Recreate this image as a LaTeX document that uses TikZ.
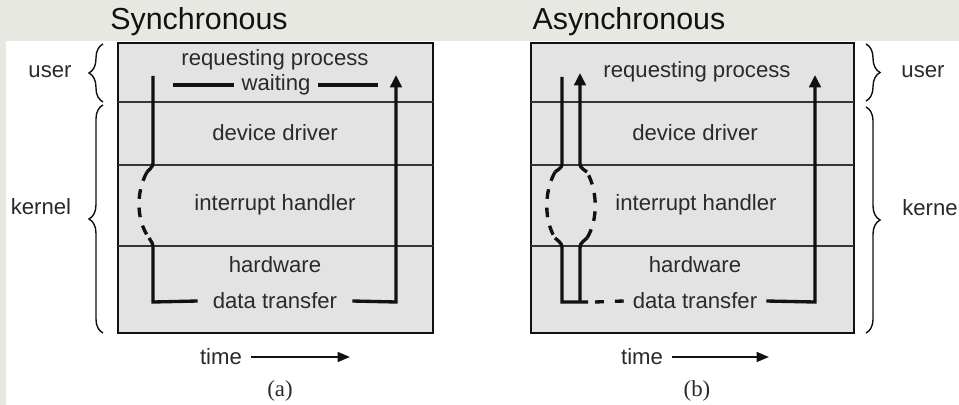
\documentclass[tikz,border=0pt]{standalone}
\usepackage{fontspec}
\setmainfont{Liberation Sans}
\newfontfamily\policelegende{Liberation Serif}
\usetikzlibrary{arrows.meta,decorations.pathreplacing,positioning}

\definecolor{couleurfond}{HTML}{E8E8E2}
\definecolor{couleurboite}{HTML}{E3E3E3}
\definecolor{couleurtext}{HTML}{2A2A2A}
\definecolor{couleurtrait}{HTML}{111111}
\newcommand{\lienhorz}[2]{\draw[flux] (#1) -- (#2);}
\newcommand{\liencoin}[3]{\draw[fleche] (#1) -- (#2) -- (#3);}
\newcommand{\lientemps}[2]{\draw[fleche temps] (#1.east) ++(0.5em,0) -- (#2);}
\tikzset{
		basic/.style={text=couleurtext, inner sep=0pt, font=\fontsize{12.6}{14}\selectfont},
		titre/.style={basic, text=couleurtrait, font=\fontsize{17.3}{19}\selectfont},
		legende/.style={basic, font=\policelegende\fontsize{13}{15}\selectfont},
		trou/.style={basic, inner xsep=4pt},
		boite/.style={draw=couleurtrait, line width=1.1pt, fill=couleurboite},
		separ/.style={draw=couleurtrait!85, line width=0.8pt},
		flux/.style={draw=couleurtrait, line width=1.9pt},
		flux pointille/.style={flux, dash pattern=on 5.5pt off 5pt},
		fleche/.style={flux, -{Triangle[length=7pt,width=6.5pt]}},
		fleche temps/.style={draw=couleurtrait, line width=1.3pt, -{Triangle[length=7pt,width=5.5pt]}},
		accolade/.style={draw=couleurtrait, line width=0.8pt, decorate, decoration={brace, amplitude=8pt}}
	}

\begin{document}
\begin{tikzpicture}[x=0.02cm, y=-0.02cm]
		\useasboundingbox (0,0) rectangle (959,405);
		\fill[couleurfond] (0,0) rectangle (959,405);
		\fill[white] (6,41) rectangle (959,405);

		% titres
		\node[titre](titsync) at (199,22){Synchronous};
		\node[titre](titasyn) at (629,22){Asynchronous};

		% boites
		\draw[boite] (118,43) rectangle (433,333);
		\draw[boite] (531,43) rectangle (854,333);
		\foreach \y in {102,165,246} {
			\draw[separ] (118,\y) -- (433,\y);
			\draw[separ] (531,\y) -- (854,\y);
		}

		% textes synchrone
		\node[basic](sreqproc) at (275,60){requesting process};
		\node[trou](swaiting) at (276,85){waiting};
		\node[basic](sdevdriv) at (275,133){device driver};
		\node[basic](sintrhnd) at (275,205){interrupt handler};
		\node[basic](shardwar) at (275,265){hardware};
		\node[basic, inner xsep=8.5pt](sdattran) at (275,301){data transfer};

		% textes asynchrone
		\node[basic](areqproc) at (697,72){requesting process};
		\node[basic](adevdriv) at (695,133){device driver};
		\node[basic](aintrhnd) at (696,205){interrupt handler};
		\node[basic](ahardwar) at (695,265){hardware};
		\node[basic, inner xsep=5pt](adattran) at (695,301){data transfer};

		% points des chemins
		\coordinate (swaitg) at (173,85);
		\coordinate (swaitd) at (378,85);
		\coordinate (sdeb) at (153,76);
		\coordinate (scrb1) at (153,160);
		\coordinate (sint1) at (147,172);
		\coordinate (sint2) at (149,238);
		\coordinate (scrb2) at (153,250);
		\coordinate (scoin) at (153,302);
		\coordinate (scoin2) at (396,302);
		\coordinate (shaut) at (396,75);

		\coordinate (adeb) at (562,77);
		\coordinate (acrb1) at (562,162);
		\coordinate (aint1) at (555,172);
		\coordinate (aint2) at (555,238);
		\coordinate (acrb2) at (562,250);
		\coordinate (acoin) at (562,302);
		\coordinate (abas) at (588,302);
		\coordinate (apoint) at (595,302);
		\coordinate (bdeb) at (580,302);
		\coordinate (bcrb2) at (580,250);
		\coordinate (bint2) at (587,238);
		\coordinate (bint1) at (587,172);
		\coordinate (bcrb1) at (580,162);
		\coordinate (bhaut) at (580,73);
		\coordinate (acoin2) at (815,302);
		\coordinate (ahaut) at (815,75);

		% liens synchrone
		\lienhorz{swaiting.west}{swaitg}
		\lienhorz{swaiting.east}{swaitd}
		\draw[flux] (sdeb) -- (scrb1) .. controls (153,166) .. (sint1);
		\draw[flux pointille] (sint1) .. controls (136,192) and (136,220) .. (sint2);
		\draw[flux] (sint2) .. controls (153,244) .. (scrb2) -- (scoin) -- (sdattran.west);
		\liencoin{sdattran.east}{scoin2}{shaut}

		% liens asynchrone
		\draw[flux] (adeb) -- (acrb1) .. controls (562,167) .. (aint1);
		\draw[flux pointille] (aint1) .. controls (544,192) and (544,220) .. (aint2);
		\draw[flux] (aint2) .. controls (562,244) .. (acrb2) -- (acoin) -- (abas);
		\draw[flux, dash pattern=on 5.1pt off 6.2pt] (apoint) -- (adattran.west);
		\draw[flux] (bdeb) -- (bcrb2) .. controls (580,244) .. (bint2);
		\draw[flux pointille] (bint2) .. controls (598,220) and (598,192) .. (bint1);
		\draw[fleche] (bint1) .. controls (580,167) .. (bcrb1) -- (bhaut);
		\liencoin{adattran.east}{acoin2}{ahaut}

		% accolades
		\draw[accolade] (103,102) -- (103,44);
		\draw[accolade] (103,333) -- (103,105);
		\draw[accolade] (866,44) -- (866,101);
		\draw[accolade] (866,107) -- (866,333);
		\node[basic](suser) at (50,72){user};
		\node[basic](skernel) at (41,207){kernel};
		\node[basic](auser) at (923,72){user};
		\node[basic, anchor=west](akernel) at (902,208){kernel};

		% temps
		\node[basic](stemps) at (221,357){time};
		\node[basic](atemps) at (642,357){time};
		\coordinate (sfltemps) at (350,357);
		\coordinate (afltemps) at (769,357);
		\lientemps{stemps}{sfltemps}
		\lientemps{atemps}{afltemps}
		\node[legende](sleg) at (280,391){(a)};
		\node[legende](aleg) at (697,391){(b)};
	\end{tikzpicture}
\end{document}
